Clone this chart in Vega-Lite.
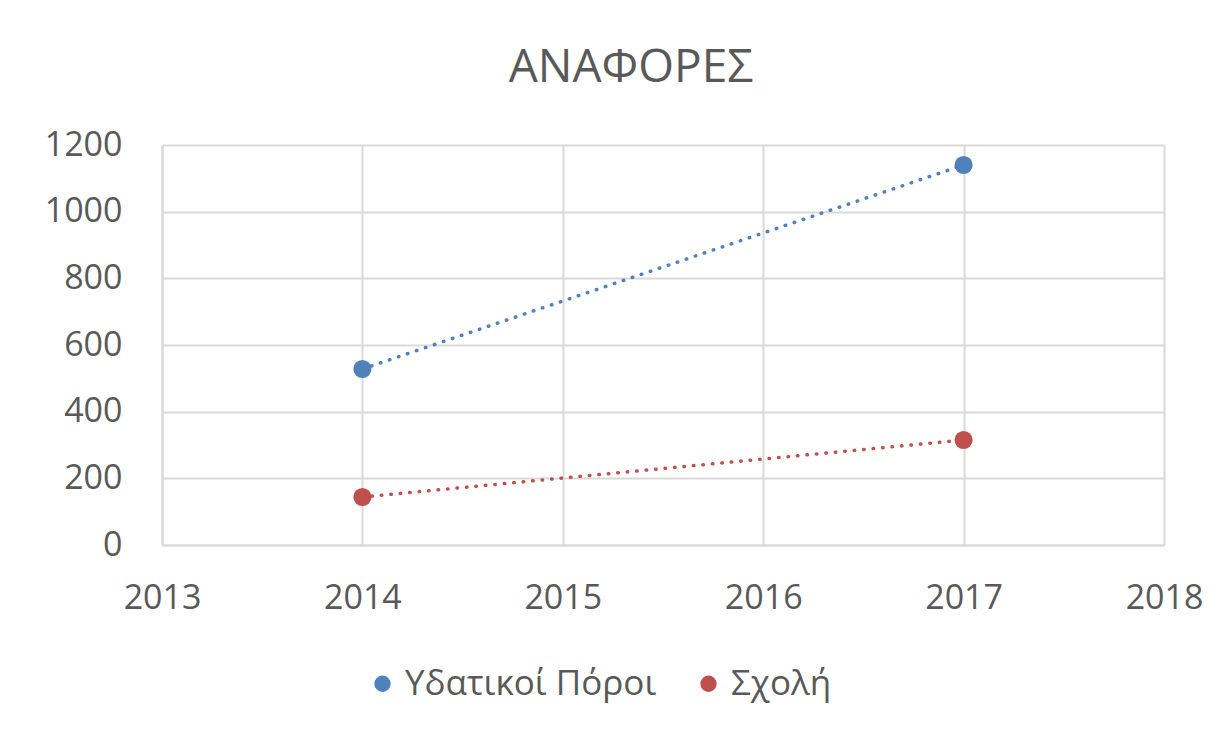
{
  "$schema": "https://vega.github.io/schema/vega-lite/v6.json",
  "autosize": "none",
  "width": 1002,
  "height": 400,
  "padding": {"left": 162, "top": 145, "right": 68, "bottom": 193},
  "background": "white",
  "config": {
    "font": "Open Sans",
    "view": {"stroke": null}
  },
  "title": {
    "text": "ΑΝΑΦΟΡΕΣ",
    "fontSize": 46,
    "fontWeight": "normal",
    "color": "#595959",
    "font": "Open Sans",
    "anchor": "middle",
    "dx": -32,
    "offset": 36
  },
  "data": {
    "values": [
      {"year": 2014, "value": 528, "series": "Υδατικοί Πόροι"},
      {"year": 2017, "value": 1140, "series": "Υδατικοί Πόροι"},
      {"year": 2014, "value": 144, "series": "Σχολή"},
      {"year": 2017, "value": 315, "series": "Σχολή"}
    ]
  },
  "encoding": {
    "x": {
      "field": "year",
      "type": "quantitative",
      "scale": {"domain": [2013, 2018], "nice": false, "zero": false},
      "axis": {
        "title": null,
        "values": [2013, 2014, 2015, 2016, 2017, 2018],
        "format": "d",
        "labelFontSize": 34,
        "labelColor": "#595959",
        "labelPadding": 36,
        "ticks": false,
        "domainColor": "#d9d9d9",
        "domainWidth": 2,
        "gridColor": "#d9d9d9",
        "gridWidth": 2,
        "labelFlush": false
      }
    },
    "y": {
      "field": "value",
      "type": "quantitative",
      "scale": {"domain": [0, 1200], "nice": false},
      "axis": {
        "title": null,
        "values": [0, 200, 400, 600, 800, 1000, 1200],
        "format": "d",
        "labelFontSize": 34,
        "labelColor": "#595959",
        "labelPadding": 40,
        "ticks": false,
        "domainColor": "#d9d9d9",
        "domainWidth": 2,
        "gridColor": "#d9d9d9",
        "gridWidth": 2,
        "labelFlush": false
      }
    },
    "color": {
      "field": "series",
      "type": "nominal",
      "scale": {"domain": ["Υδατικοί Πόροι", "Σχολή"], "range": ["#4F81BD", "#C0504D"]},
      "legend": {
        "title": null,
        "orient": "none",
        "direction": "horizontal",
        "legendX": 203,
        "legendY": 521,
        "labelFontSize": 35,
        "labelColor": "#595959",
        "symbolType": "circle",
        "symbolSize": 220,
        "symbolOpacity": 1,
        "labelOffset": 5,
        "columnPadding": 34,
        "labelLimit": 400
      }
    }
  },
  "layer": [
    {
      "mark": {"type": "point", "filled": true, "shape": "circle", "size": 330, "opacity": 1}
    },
    {
      "mark": {"type": "line", "strokeWidth": 3.5, "strokeDash": [0.5, 9], "strokeCap": "round"}
    }
  ]
}
